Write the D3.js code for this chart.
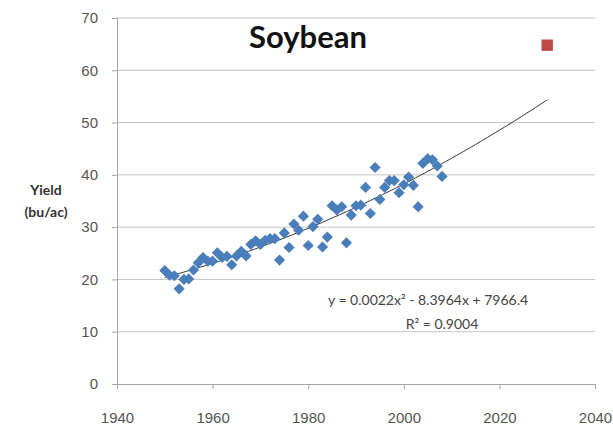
<!DOCTYPE html>
<html>
<head>
<script src="https://cdn.jsdelivr.net/npm/d3@7"></script>
<style>
  html, body { margin: 0; padding: 0; background: #fff; }
  svg { display: block; font-family: Lato, "Liberation Sans", sans-serif; }
  .grid line { stroke: #c4c4c4; stroke-width: 1; }
  .axis text { fill: #555; font-size: 15px; }
</style>
</head>
<body>
<svg id="chart" width="613" height="428"></svg>
<script>
// soybean yield, bu/ac
var years = d3.range(1950, 2009);
var yields = [21.7, 20.8, 20.7, 18.2, 20.0, 20.1, 21.8, 23.2, 24.2, 23.5,
              23.5, 25.1, 24.2, 24.4, 22.8, 24.5, 25.4, 24.5, 26.7, 27.4,
              26.7, 27.5, 27.8, 27.8, 23.7, 28.9, 26.1, 30.6, 29.4, 32.1,
              26.5, 30.1, 31.5, 26.2, 28.1, 34.1, 33.3, 33.9, 27.0, 32.3,
              34.1, 34.2, 37.6, 32.6, 41.4, 35.3, 37.6, 38.9, 38.9, 36.6,
              38.1, 39.6, 38.0, 33.9, 42.2, 43.1, 42.9, 41.7, 39.7];
var targetYear = [2030];
var targetYield = [64.8];
var xTicks = [1940, 1960, 1980, 2000, 2020, 2040];
var yTicks = [0, 10, 20, 30, 40, 50, 60, 70];
var equation = "y = 0.0022x\u00b2 - 8.3964x + 7966.4";
var rSquared = "R\u00b2 = 0.9004";

var svg = d3.select("#chart");
var x = d3.scaleLinear().domain([1940, 2040]).range([117, 595]);
var y = d3.scaleLinear().domain([0, 70]).range([384, 18]);

// horizontal gridlines
svg.append("g").attr("class", "grid")
  .selectAll("line").data(yTicks.slice(1)).enter().append("line")
  .attr("x1", x(1940)).attr("x2", x(2040))
  .attr("y1", function (d) { return y(d); })
  .attr("y2", function (d) { return y(d); });

// y axis
var yAxis = svg.append("g").attr("class", "axis")
  .attr("transform", "translate(" + x(1940) + ",0)")
  .call(d3.axisLeft(y).tickValues(yTicks).tickSize(5).tickPadding(14));
// x axis
var xAxis = svg.append("g").attr("class", "axis")
  .attr("transform", "translate(0," + y(0) + ")")
  .call(d3.axisBottom(x).tickValues(xTicks).tickFormat(d3.format("d")).tickSize(5).tickPadding(23));
[yAxis, xAxis].forEach(function (a) {
  a.select(".domain").attr("stroke", "#a6a6a6");
  a.selectAll(".tick line").attr("stroke", "#a6a6a6");
});
yAxis.selectAll(".tick text").attr("font-size", 15);
xAxis.selectAll(".tick text").attr("font-size", 15);

// quadratic least-squares trend, centred on mean year
var mx = d3.mean(years);
var s = [0, 0, 0, 0, 0], t = [0, 0, 0];
years.forEach(function (yr, i) {
  var u = yr - mx, p = 1;
  for (var k = 0; k < 5; k++) { s[k] += p; if (k < 3) t[k] += p * yields[i]; p *= u; }
});
function det3(m) {
  return m[0][0] * (m[1][1] * m[2][2] - m[1][2] * m[2][1]) -
         m[0][1] * (m[1][0] * m[2][2] - m[1][2] * m[2][0]) +
         m[0][2] * (m[1][0] * m[2][1] - m[1][1] * m[2][0]);
}
var A = [[s[0], s[1], s[2]], [s[1], s[2], s[3]], [s[2], s[3], s[4]]];
var D = det3(A), coef = [];
for (var c = 0; c < 3; c++) {
  var M = A.map(function (row, r) { var rr = row.slice(); rr[c] = t[r]; return rr; });
  coef.push(det3(M) / D);
}
function trend(yr) { var u = yr - mx; return coef[0] + coef[1] * u + coef[2] * u * u; }

svg.append("path")
  .datum(d3.range(1950, 2030.5, 0.5))
  .attr("fill", "none").attr("stroke", "#333").attr("stroke-width", 1)
  .attr("d", d3.line().x(function (d) { return x(d); }).y(function (d) { return y(trend(d)); }));

// observed yields
svg.append("g").selectAll("path").data(years).enter().append("path")
  .attr("d", d3.symbol().type(d3.symbolSquare).size(62))
  .attr("transform", function (d, i) { return "translate(" + x(d) + "," + y(yields[i]) + ") rotate(45)"; })
  .attr("fill", "#4a7ebb");

// 2030 target
svg.append("g").selectAll("path").data(targetYear).enter().append("path")
  .attr("d", d3.symbol().type(d3.symbolSquare).size(130))
  .attr("transform", function (d, i) { return "translate(" + x(d) + "," + y(targetYield[i]) + ")"; })
  .attr("fill", "#be4b48");

// titles
svg.append("text").attr("x", 308).attr("y", 48).attr("text-anchor", "middle")
  .attr("font-size", 31).attr("font-weight", "bold").attr("fill", "#111").text("Soybean");
svg.append("text").attr("x", 46).attr("y", 195).attr("text-anchor", "middle")
  .attr("font-size", 14).attr("font-weight", "bold").attr("fill", "#333").text("Yield");
svg.append("text").attr("x", 46).attr("y", 217).attr("text-anchor", "middle")
  .attr("font-size", 14).attr("font-weight", "bold").attr("fill", "#333").text("(bu/ac)");

// equation
svg.append("text").attr("x", 428).attr("y", 305).attr("text-anchor", "middle")
  .attr("font-size", 14).attr("fill", "#444").text(equation);
svg.append("text").attr("x", 442).attr("y", 329).attr("text-anchor", "middle")
  .attr("font-size", 14).attr("fill", "#444").text(rSquared);
</script>
</body>
</html>
